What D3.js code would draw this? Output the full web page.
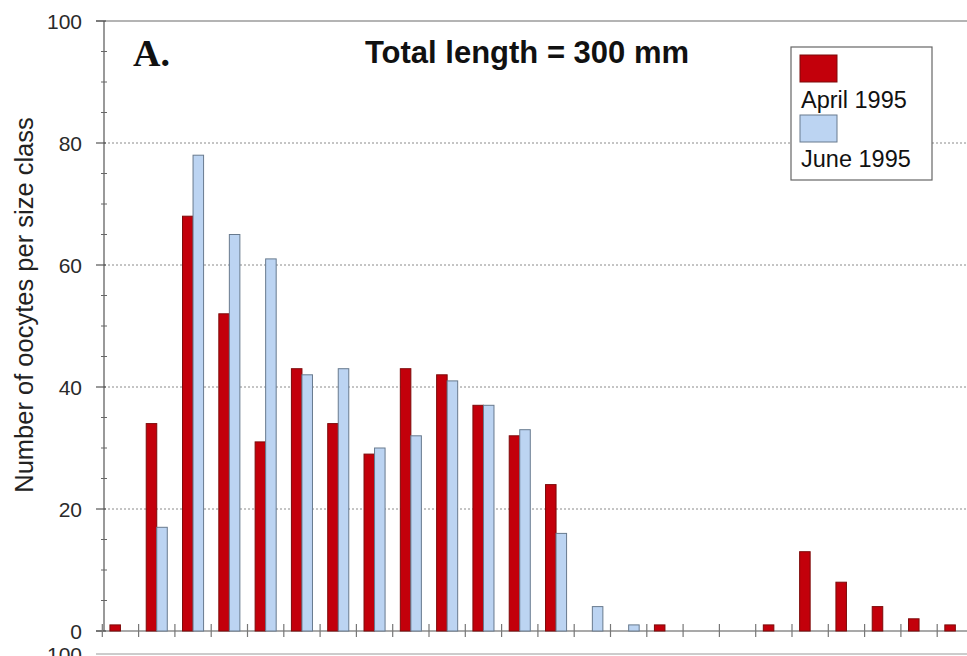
<!DOCTYPE html>
<html>
<head>
<meta charset="utf-8">
<script src="https://cdn.jsdelivr.net/npm/d3@7/dist/d3.min.js"></script>
<style>
  html, body { margin: 0; padding: 0; background: #fff; }
  svg { display: block; font-family: "Liberation Sans", Arial, sans-serif; }
</style>
</head>
<body>
<script>
// Oocyte size-frequency distribution, fish of total length 300 mm
const sizeClasses = d3.range(1, 25).map(String);
const april1995 = [1, 34, 68, 52, 31, 43, 34, 29, 43, 42, 37, 32, 24, 0, 0, 1, 0, 0, 1, 13, 8, 4, 2, 1];
const june1995  = [0, 17, 78, 65, 61, 42, 43, 30, 32, 41, 37, 33, 16, 4, 1, 0, 0, 0, 0, 0, 0, 0, 0, 0];
const seriesNames = ["April 1995", "June 1995"];
const yMajorTicks = [0, 20, 40, 60, 80, 100];

const W = 967, H = 656;
const plotLeft = 102.3, plotRight = 973.5, plotTop = 21, plotBottom = 631;

const svg = d3.select("body").append("svg")
  .attr("width", W).attr("height", H);

const x = d3.scaleBand()
  .domain(sizeClasses)
  .range([plotLeft, plotRight])
  .paddingInner(0.42)
  .paddingOuter(0.21);

const xSub = d3.scaleBand()
  .domain(seriesNames)
  .range([0, x.bandwidth()]);

const y = d3.scaleLinear().domain([0, 100]).range([plotBottom, plotTop]);

const colors = { "April 1995": "#c3000b", "June 1995": "#bcd4f2" };
const strokes = { "April 1995": "#7d0a0a", "June 1995": "#687a8e" };

// dotted grid lines
svg.append("g")
  .selectAll("line")
  .data(yMajorTicks.filter(d => d > 0 && d < 100))
  .join("line")
  .attr("x1", 104).attr("x2", W)
  .attr("y1", d => y(d)).attr("y2", d => y(d))
  .attr("stroke", "#8a8a8a")
  .attr("stroke-width", 1)
  .attr("stroke-dasharray", "2,2");

// top frame line
svg.append("line")
  .attr("x1", 96).attr("x2", W)
  .attr("y1", y(100)).attr("y2", y(100))
  .attr("stroke", "#6a6a6a").attr("stroke-width", 1.2);

// y axis with major and minor ticks
const yAxisG = svg.append("g").attr("transform", "translate(104,0)");
yAxisG.append("line")
  .attr("x1", 0).attr("x2", 0)
  .attr("y1", y(100)).attr("y2", y(0))
  .attr("stroke", "#555").attr("stroke-width", 1.2);
yAxisG.selectAll("line.minor")
  .data(d3.range(5, 100, 5).filter(d => d % 20 !== 0))
  .join("line").attr("class", "minor")
  .attr("x1", -3).attr("x2", 3)
  .attr("y1", d => y(d)).attr("y2", d => y(d))
  .attr("stroke", "#666").attr("stroke-width", 1);
yAxisG.selectAll("line.major")
  .data(yMajorTicks)
  .join("line").attr("class", "major")
  .attr("x1", -8).attr("x2", 2)
  .attr("y1", d => y(d)).attr("y2", d => y(d))
  .attr("stroke", "#555").attr("stroke-width", 1.2);
yAxisG.selectAll("text")
  .data(yMajorTicks)
  .join("text")
  .attr("x", -22)
  .attr("y", d => y(d))
  .attr("dy", "0.36em")
  .attr("text-anchor", "end")
  .attr("font-size", 21)
  .attr("fill", "#2a2a2a")
  .text(d => d);

// x axis baseline and class boundaries
svg.append("line")
  .attr("x1", 96).attr("x2", W)
  .attr("y1", y(0)).attr("y2", y(0))
  .attr("stroke", "#555").attr("stroke-width", 1.2);
svg.append("g")
  .selectAll("line")
  .data(d3.range(sizeClasses.length + 1))
  .join("line")
  .attr("x1", i => plotLeft + i * x.step())
  .attr("x2", i => plotLeft + i * x.step())
  .attr("y1", y(0) - 7).attr("y2", y(0) + 6)
  .attr("stroke", "#777").attr("stroke-width", 1.2);

// bars
const groups = svg.append("g")
  .selectAll("g")
  .data(sizeClasses)
  .join("g")
  .attr("transform", d => `translate(${x(d)},0)`);

groups.selectAll("rect")
  .data((d, i) => seriesNames.map(s => ({
    series: s,
    value: s === "April 1995" ? april1995[i] : june1995[i]
  })).filter(e => e.value > 0))
  .join("rect")
  .attr("x", e => xSub(e.series))
  .attr("width", xSub.bandwidth())
  .attr("y", e => y(e.value))
  .attr("height", e => y(0) - y(e.value))
  .attr("fill", e => colors[e.series])
  .attr("stroke", e => strokes[e.series])
  .attr("stroke-width", 1);

// panel letter and title
svg.append("text")
  .attr("x", 133).attr("y", 66)
  .style("font-family", "'Liberation Serif', 'Times New Roman', serif")
  .attr("font-weight", "bold")
  .attr("font-size", 38)
  .attr("fill", "#111")
  .text("A.");

svg.append("text")
  .attr("x", 527).attr("y", 63)
  .attr("text-anchor", "middle")
  .attr("font-weight", "bold")
  .attr("font-size", 31)
  .attr("fill", "#111")
  .text("Total length = 300 mm");

// y axis title
svg.append("text")
  .attr("transform", "translate(33,305) rotate(-90)")
  .attr("text-anchor", "middle")
  .attr("font-size", 25.5)
  .attr("fill", "#222")
  .text("Number of oocytes per size class");

// legend
const lg = svg.append("g");
lg.append("rect")
  .attr("x", 791).attr("y", 47).attr("width", 141).attr("height", 133)
  .attr("fill", "#fff").attr("stroke", "#666").attr("stroke-width", 1.2);
seriesNames.forEach((s, i) => {
  lg.append("rect")
    .attr("x", 800).attr("y", 55 + i * 60).attr("width", 37).attr("height", 27)
    .attr("fill", colors[s]).attr("stroke", strokes[s]).attr("stroke-width", 1);
  lg.append("text")
    .attr("x", 801).attr("y", 108 + i * 58.5)
    .attr("font-size", 23.5)
    .attr("fill", "#111")
    .text(s);
});

// edge of the following panel
svg.append("line")
  .attr("x1", 96).attr("x2", W)
  .attr("y1", 654).attr("y2", 654)
  .attr("stroke", "#9a9a9a").attr("stroke-width", 1.2);
svg.append("text")
  .attr("x", 82).attr("y", 662)
  .attr("text-anchor", "end")
  .attr("font-size", 21)
  .attr("fill", "#2a2a2a")
  .text("100");
</script>
</body>
</html>
